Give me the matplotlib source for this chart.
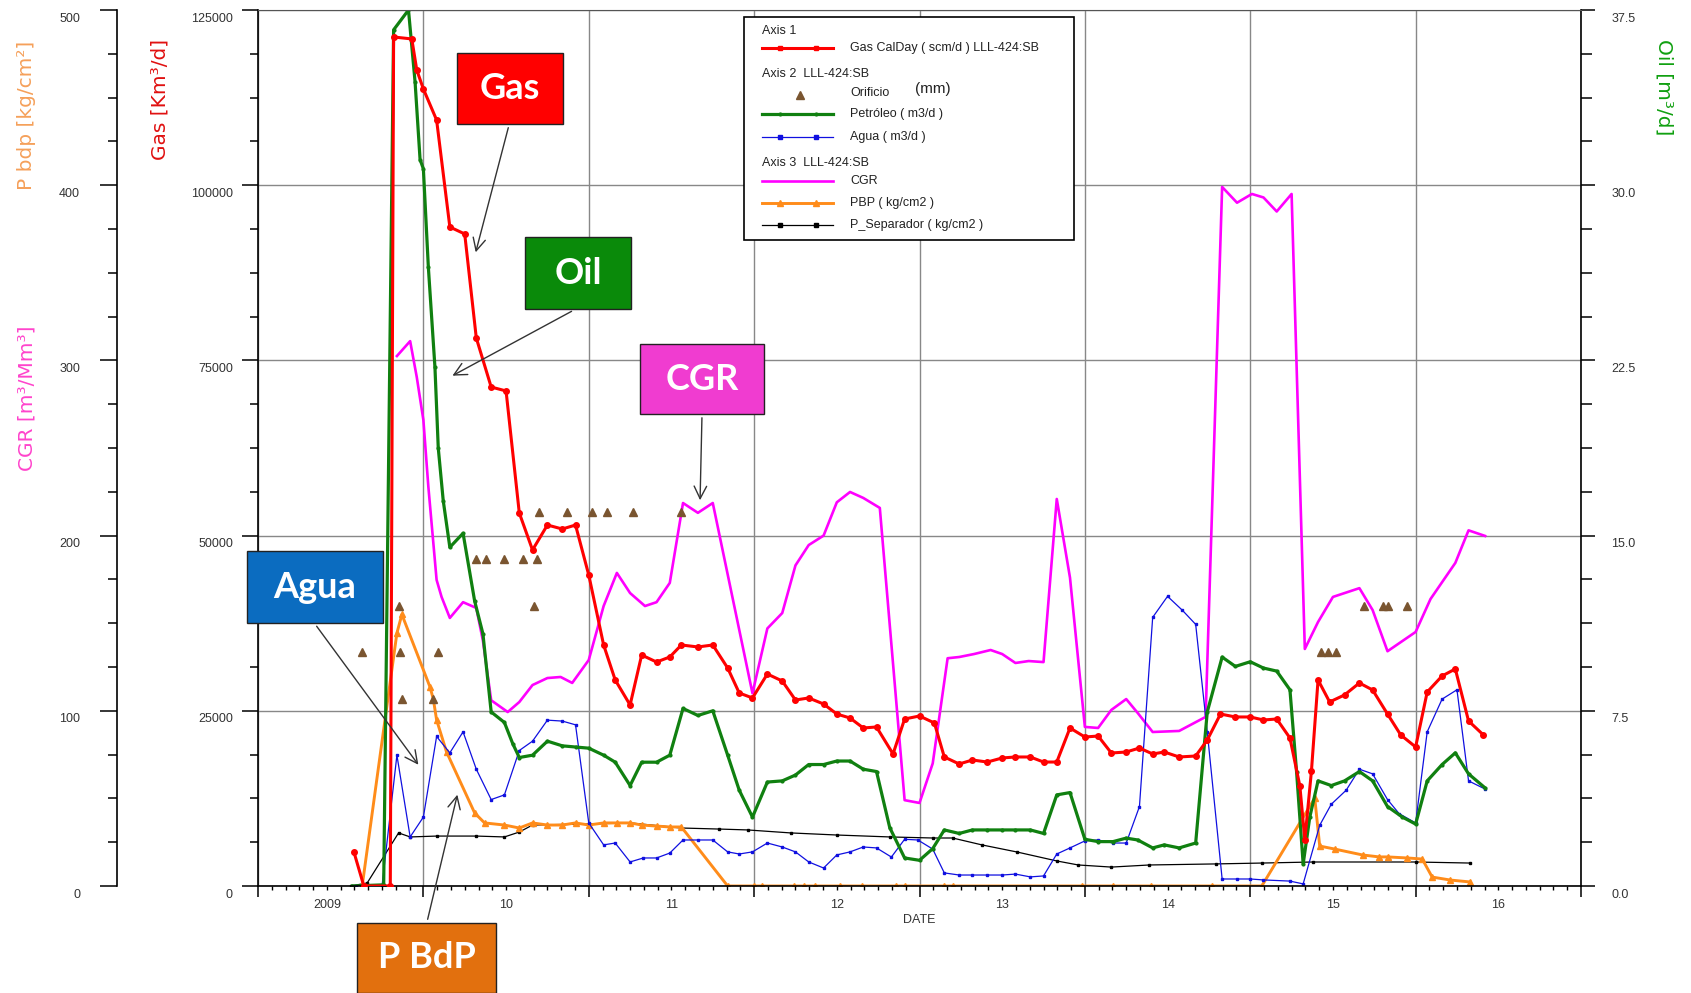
import matplotlib
matplotlib.use('Agg')
import matplotlib.pyplot as plt
from matplotlib.lines import Line2D
from matplotlib.patches import Rectangle, FancyArrowPatch
from matplotlib.ticker import FixedLocator, FuncFormatter, NullFormatter
import matplotlib.transforms as mtransforms

plt.rcParams['font.family'] = ['Liberation Sans', 'DejaVu Sans']

# ---------------- data (decimal years) ----------------
gas_x = [2009.58, 2009.64, 2009.80, 2009.82, 2009.93, 2009.96, 2010.00, 2010.08, 2010.16, 2010.25, 2010.32,
         2010.41, 2010.50, 2010.58, 2010.66, 2010.75, 2010.84, 2010.92, 2011.00, 2011.09, 2011.16,
         2011.25, 2011.32, 2011.41, 2011.49, 2011.56, 2011.66, 2011.75, 2011.84, 2011.91, 2011.99,
         2012.08, 2012.17, 2012.25, 2012.33, 2012.42, 2012.50, 2012.58, 2012.66, 2012.74, 2012.84,
         2012.91, 2013.00, 2013.09, 2013.15, 2013.24, 2013.32, 2013.41, 2013.50, 2013.58, 2013.67,
         2013.75, 2013.83, 2013.91, 2014.00, 2014.08, 2014.16, 2014.25, 2014.33, 2014.41, 2014.48,
         2014.57, 2014.67, 2014.74, 2014.82, 2014.91, 2015.00, 2015.08, 2015.16, 2015.24, 2015.30,
         2015.33, 2015.37, 2015.41, 2015.48, 2015.57, 2015.66, 2015.74, 2015.83, 2015.91, 2016.00,
         2016.07, 2016.16, 2016.24, 2016.32, 2016.41]
gas_scmd = [4850, 0, 0, 121150, 120870, 116440, 113730, 109300, 94040, 93040, 78200,
            71200, 70640, 53230, 47950, 51510, 50940, 51510, 44380, 34390, 29400,
            25830, 32960, 31960, 32680, 34390, 34110, 34390, 31110, 27540, 26830,
            30250, 29250, 26540, 26830, 25970, 24540, 23970, 22550, 22690, 18840,
            23830, 24260, 23260, 18410, 17410, 17980, 17690, 18270, 18410, 18410,
            17690, 17690, 22550, 21260, 21400, 18980, 19120, 19690, 18840, 19120,
            18410, 18550, 20830, 24540, 24120, 24120, 23690, 23830, 21120, 14270,
            6560, 16410, 29400, 26260, 27260, 28970, 27970, 24540, 21550, 19840,
            27680, 29970, 30970, 23550, 21550]

oil_x = [2009.57, 2009.76, 2009.82, 2009.91, 2009.95, 2009.98, 2010.00, 2010.03, 2010.07, 2010.09,
         2010.12, 2010.16, 2010.24, 2010.31, 2010.36, 2010.41, 2010.49, 2010.54, 2010.58, 2010.66,
         2010.75, 2010.84, 2010.92, 2011.00, 2011.09, 2011.16, 2011.25, 2011.32, 2011.41, 2011.49,
         2011.57, 2011.66, 2011.75, 2011.84, 2011.91, 2011.99, 2012.08, 2012.17, 2012.25, 2012.33,
         2012.42, 2012.50, 2012.58, 2012.66, 2012.74, 2012.82, 2012.91, 2013.00, 2013.08, 2013.15,
         2013.24, 2013.32, 2013.41, 2013.50, 2013.58, 2013.67, 2013.75, 2013.83, 2013.91, 2014.00,
         2014.08, 2014.17, 2014.25, 2014.32, 2014.41, 2014.48, 2014.57, 2014.67, 2014.74, 2014.83,
         2014.91, 2015.00, 2015.08, 2015.16, 2015.24, 2015.28, 2015.32, 2015.36, 2015.41, 2015.49,
         2015.57, 2015.66, 2015.74, 2015.83, 2015.92, 2016.00, 2016.07, 2016.16, 2016.24, 2016.32,
         2016.42]
oil_m3d = [0.0, 0.05, 36.65, 37.5, 34.4, 31.1, 30.7, 26.5, 22.2, 18.75,
           16.5, 14.5, 15.1, 12.2, 10.8, 7.45, 7.0, 6.1, 5.5, 5.6,
           6.2, 6.0, 5.95, 5.9, 5.6, 5.3, 4.3, 5.3, 5.3, 5.6,
           7.6, 7.3, 7.5, 5.6, 4.1, 2.95, 4.45, 4.5, 4.75, 5.2,
           5.2, 5.35, 5.35, 5.0, 4.9, 2.5, 1.2, 1.1, 1.6, 2.4,
           2.25, 2.4, 2.4, 2.4, 2.4, 2.4, 2.25, 3.9, 4.0, 2.0,
           1.9, 1.9, 2.05, 1.97, 1.63, 1.76, 1.63, 1.84, 7.45, 9.8,
           9.4, 9.6, 9.33, 9.2, 8.4, 4.9, 0.94, 2.95, 4.5, 4.3,
           4.5, 4.9, 4.5, 3.4, 2.95, 2.65, 4.5, 5.2, 5.7, 4.8,
           4.2]

agua_x = [2009.59, 2009.75, 2009.84, 2009.92, 2010.00, 2010.08, 2010.16, 2010.24, 2010.32, 2010.41,
          2010.49, 2010.58, 2010.66, 2010.75, 2010.84, 2010.92, 2011.00, 2011.09, 2011.16, 2011.25,
          2011.33, 2011.41, 2011.49, 2011.57, 2011.66, 2011.75, 2011.84, 2011.91, 2011.99, 2012.08,
          2012.17, 2012.25, 2012.33, 2012.42, 2012.50, 2012.58, 2012.66, 2012.74, 2012.83, 2012.91,
          2012.99, 2013.08, 2013.15, 2013.24, 2013.32, 2013.41, 2013.50, 2013.58, 2013.67, 2013.75,
          2013.83, 2013.91, 2014.00, 2014.08, 2014.17, 2014.25, 2014.33, 2014.41, 2014.50, 2014.59,
          2014.67, 2014.74, 2014.83, 2014.92, 2015.00, 2015.08, 2015.24, 2015.32, 2015.42, 2015.49,
          2015.58, 2015.66, 2015.74, 2015.83, 2015.90, 2016.00, 2016.07, 2016.16, 2016.25, 2016.32,
          2016.42]
agua_m3d = [0.0, 0.0, 5.6, 2.1, 2.95, 6.4, 5.7, 6.6, 5.0, 3.7,
            3.9, 5.8, 6.2, 7.1, 7.06, 6.9, 2.7, 1.76, 1.84, 1.03,
            1.2, 1.2, 1.41, 1.97, 1.97, 1.97, 1.46, 1.37, 1.46, 1.84,
            1.67, 1.46, 1.03, 0.77, 1.33, 1.46, 1.67, 1.63, 1.24, 2.0,
            1.97, 1.58, 0.56, 0.47, 0.47, 0.47, 0.47, 0.51, 0.39, 0.43,
            1.37, 1.63, 1.93, 1.97, 1.84, 1.84, 3.4, 11.5, 12.4, 11.8,
            11.2, 6.6, 0.3, 0.3, 0.3, 0.26, 0.21, 0.09, 2.6, 3.5,
            4.1, 5.0, 4.8, 3.7, 3.1, 2.7, 6.6, 8.0, 8.4, 4.5,
            4.15]

orif_x = [2009.63, 2009.85, 2009.86, 2009.87, 2010.06, 2010.09, 2010.32, 2010.38, 2010.49, 2010.60,
          2010.69, 2010.67, 2010.70, 2010.87, 2011.02, 2011.11, 2011.27, 2011.56, 2015.43, 2015.47,
          2015.52, 2015.69, 2015.80, 2015.83, 2015.95]
orif_mm = [10.0, 12.0, 10.0, 8.0, 8.0, 10.0, 14.0, 14.0, 14.0, 14.0,
           14.0, 12.0, 16.0, 16.0, 16.0, 16.0, 16.0, 16.0, 10.0, 10.0,
           10.0, 12.0, 12.0, 12.0, 12.0]

cgr_x = [2009.84, 2009.92, 2009.96, 2010.00, 2010.03, 2010.08, 2010.11, 2010.16, 2010.24, 2010.32,
         2010.36, 2010.41, 2010.51, 2010.58, 2010.66, 2010.75, 2010.83, 2010.90, 2011.00, 2011.09,
         2011.17, 2011.25, 2011.34, 2011.41, 2011.49, 2011.57, 2011.66, 2011.75, 2011.99, 2012.08,
         2012.17, 2012.25, 2012.33, 2012.42, 2012.50, 2012.58, 2012.66, 2012.76, 2012.91, 2013.00,
         2013.08, 2013.17, 2013.24, 2013.33, 2013.43, 2013.50, 2013.58, 2013.66, 2013.75, 2013.83,
         2013.91, 2014.00, 2014.08, 2014.16, 2014.25, 2014.32, 2014.41, 2014.57, 2014.73, 2014.83,
         2014.92, 2015.01, 2015.08, 2015.16, 2015.25, 2015.33, 2015.41, 2015.50, 2015.66, 2015.74,
         2015.83, 2016.00, 2016.09, 2016.24, 2016.32, 2016.42]
cgr_val = [302.5, 311, 290.5, 266, 228, 174.7, 165, 153, 162, 158.7,
           140, 106, 99.3, 105, 114.7, 118.7, 119.3, 115.9, 129, 159.8,
           178.7, 167.2, 159.8, 162, 173, 218.6, 213, 218.6, 110, 147,
           155.8, 183, 194.6, 200, 219, 224.9, 221.5, 215.8, 49, 47.4,
           70, 130, 130.7, 132.4, 134.7, 132.4, 127.3, 128.4, 127.8, 220.9,
           176, 90.8, 90.2, 100.5, 106.7, 98.7, 87.9, 88.5, 96.5, 399,
           390, 395, 393, 385, 395, 135.3, 150.7, 165, 170, 157.5,
           134, 145, 163.8, 184.4, 203, 199.8]

pbp_x = [2009.63, 2009.84, 2009.87, 2010.04, 2010.06, 2010.08, 2010.14, 2010.31, 2010.37, 2010.49,
         2010.58, 2010.66, 2010.75, 2010.84, 2010.92, 2011.00, 2011.09, 2011.17, 2011.25, 2011.32,
         2011.41, 2011.49, 2011.56, 2011.84, 2012.00, 2012.05, 2012.24, 2012.30, 2012.37, 2012.52,
         2012.65, 2012.86, 2012.91, 2013.15, 2013.20, 2013.98, 2014.17, 2014.40, 2014.77, 2015.07,
         2015.39, 2015.42, 2015.51, 2015.68, 2015.78, 2015.83, 2015.95, 2016.04, 2016.10, 2016.21,
         2016.33]
pbp_val = [0, 144.4, 155, 113.6, 106.7, 94.8, 76.5, 41.7, 36, 34.8,
           33.1, 36, 34.8, 34.8, 36, 34.8, 36, 36, 36, 34.8,
           34.2, 33.7, 33.7, 0, 0, 0, 0, 0, 0, 0,
           0, 0, 0, 0, 0, 0, 0, 0, 0, 0,
           50.2, 22.8, 21.1, 17.7, 16.6, 16.6, 16.0, 15.4, 5.1, 3.4,
           2.3]

psep_x = [2009.56, 2009.66, 2009.85, 2009.92, 2010.08, 2010.32, 2010.49, 2010.58, 2010.66, 2011.00,
          2011.25, 2011.56, 2011.79, 2011.96, 2012.22, 2012.50, 2012.82, 2013.08, 2013.20, 2013.38,
          2013.59, 2013.83, 2013.96, 2014.16, 2014.39, 2014.79, 2015.07, 2015.38, 2016.00, 2016.33]
psep_val = [0, 1.7, 30.3, 28, 28.5, 28.5, 28, 30.8, 34.8, 35.4,
            36, 33.1, 32.5, 32, 30.3, 29.1, 28, 27.4, 27.4, 23.4,
            19.4, 14.3, 12, 10.8, 12, 12.6, 13.1, 13.7, 13.7, 13.1]

gas_ticks = [0, 25000, 50000, 75000, 100000, 125000]
oil_ticks = [0.0, 7.5, 15.0, 22.5, 30.0, 37.5]
left_ticks = [0, 100, 200, 300, 400, 500]
year_bounds = list(range(2009, 2018))
year_label_pos = [2009 + 5 / 12] + [y + 0.5 for y in range(2010, 2017)]
year_labels = ['2009', '10', '11', '12', '13', '14', '15', '16']

# ---------------- figure ----------------
W, H = 1691, 993
fig = plt.figure(figsize=(W / 100, H / 100), dpi=100)


def fx(px):
    return px / W


def fy(py):
    return 1 - py / H


L, R, T, B = 258, 1581, 10, 886
ax = fig.add_axes([fx(L), fy(B), fx(R) - fx(L), fy(T) - fy(B)])
ax3 = ax.twinx()   # CGR / PBP / P_Separador
ax2 = ax.twinx()   # Oil / Agua / Orificio

ax.set_zorder(3)
ax.patch.set_visible(False)
ax2.set_zorder(2)
ax2.patch.set_visible(False)
ax3.set_zorder(1)
ax3.patch.set_visible(True)
ax3.patch.set_facecolor('white')

GRAY = '#888888'
TXT = '#333333'

# --- x axis ---
ax.set_xlim(2009, 2017)
ax.xaxis.set_major_locator(FixedLocator(year_bounds))
ax.xaxis.set_major_formatter(NullFormatter())
months = [y + m / 12 for y in range(2009, 2017) for m in range(1, 12)]
ax.xaxis.set_minor_locator(FixedLocator(months))


def xfmt(x, pos):
    for xp, lab in zip(year_label_pos, year_labels):
        if abs(x - xp) < 1e-6:
            return lab
    return ''


ax.xaxis.set_minor_formatter(FuncFormatter(xfmt))
ax.tick_params(axis='x', which='major', direction='out', length=7.9, width=1.1, color='black')
ax.tick_params(axis='x', which='minor', direction='out', length=2.9, width=1.0, color='black',
               pad=6.5, labelsize=9, labelcolor=TXT)
ax.set_xlabel('DATE', fontsize=9, color=TXT, labelpad=2)

# --- gas axis (main left) ---
ax.set_ylim(0, 125000)
ax.yaxis.set_major_locator(FixedLocator(gas_ticks))
ax.yaxis.set_minor_locator(FixedLocator([v * 6250 for v in range(21)]))
ax.yaxis.set_major_formatter(FuncFormatter(lambda v, p: '%d' % v))
ax.tick_params(axis='y', which='major', direction='out', length=11.5, width=1.1,
               pad=6.5, labelsize=9, labelcolor=TXT)
ax.tick_params(axis='y', which='minor', direction='out', length=5.8, width=1.1)
ax.spines['right'].set_visible(False)
ax.spines['top'].set_color('#555555')
for s in ('left', 'bottom'):
    ax.spines[s].set_linewidth(1.2)

# --- oil axis (right) ---
ax2.set_ylim(0, 37.5)
ax2.yaxis.set_major_locator(FixedLocator(oil_ticks))
ax2.yaxis.set_minor_locator(FixedLocator([v * 1.875 for v in range(21)]))
ax2.yaxis.set_major_formatter(FuncFormatter(lambda v, p: '%.1f' % v))
ax2.tick_params(axis='y', which='major', direction='out', length=10, width=1.1,
                pad=12, labelsize=9, labelcolor=TXT)
ax2.tick_params(axis='y', which='minor', direction='out', length=8, width=1.1)
for s in ('left', 'top', 'bottom'):
    ax2.spines[s].set_visible(False)
ax2.spines['right'].set_linewidth(1.2)

# --- CGR / pressure axis (outer left) ---
ax3.set_ylim(0, 500)
ax3.yaxis.tick_left()
ax3.yaxis.set_label_position('left')
ax3.spines['left'].set_position(('axes', (117 - L) / (R - L)))
ax3.spines['left'].set_visible(True)
ax3.spines['left'].set_linewidth(1.2)
for s in ('right', 'top', 'bottom'):
    ax3.spines[s].set_visible(False)
ax3.yaxis.set_major_locator(FixedLocator(left_ticks))
ax3.yaxis.set_minor_locator(FixedLocator([v * 25 for v in range(21)]))
ax3.yaxis.set_major_formatter(FuncFormatter(lambda v, p: '%d' % v))
ax3.tick_params(axis='y', which='major', direction='out', length=12.2, width=1.1,
                pad=14.4, labelsize=9, labelcolor=TXT)
ax3.tick_params(axis='y', which='minor', direction='out', length=6.5, width=1.1)
# grid on the bottom-most axes
ax3.xaxis.set_visible(True)
ax3.tick_params(axis='x', which='both', bottom=False, top=False, labelbottom=False, labeltop=False)
ax3.grid(True, which='major', axis='both', color=GRAY, linewidth=1.0)
ax3.set_axisbelow(True)

# ---------------- series ----------------
ax3.plot(cgr_x, cgr_val, color='#FF00FF', lw=1.9, zorder=2)
ax3.plot(psep_x, psep_val, color='black', lw=0.9, marker='s', ms=2, zorder=3)
ax3.plot(pbp_x, pbp_val, color='#FF8C1A', lw=2.1, marker='^', ms=5, zorder=4)

ax2.plot(agua_x, agua_m3d, color='#1010E0', lw=0.9, marker='s', ms=2, zorder=2)
ax2.plot(oil_x, oil_m3d, color='#108010', lw=2.3, marker='o', ms=2, zorder=3)
ax2.plot(orif_x, orif_mm, ls='none', marker='^', ms=5.5, color='#7A5530', zorder=4)

ax.plot(gas_x, gas_scmd, color='#FF0000', lw=2.2, marker='o', ms=4, zorder=3)

# shift y tick labels slightly below their ticks (as in the reference)
off = mtransforms.ScaledTranslation(0, -0.07, fig.dpi_scale_trans)
for a in (ax, ax2, ax3):
    for lbl in a.yaxis.get_majorticklabels():
        lbl.set_transform(lbl.get_transform() + off)

# ---------------- axis titles ----------------
fig.text(fx(27), fy(115), 'P bdp [kg/cm²]', rotation=90, color='#F5A05A', fontsize=14.5,
         family='DejaVu Sans', ha='center', va='center')
fig.text(fx(27), fy(398), 'CGR [m³/Mm³]', rotation=90, color='#FF44CC', fontsize=14.5,
         family='DejaVu Sans', ha='center', va='center')
fig.text(fx(160), fy(99), 'Gas [Km³/d]', rotation=90, color='#E01010', fontsize=14.5,
         family='DejaVu Sans', ha='center', va='center')
fig.text(fx(1664), fy(87), 'Oil [m³/d]', rotation=270, color='#10A010', fontsize=14.5,
         family='DejaVu Sans', ha='center', va='center')

# ---------------- legend box ----------------
Z = 20
fig.add_artist(Rectangle((fx(744), fy(240)), fx(1074) - fx(744), fy(17) - fy(240),
                         transform=fig.transFigure, facecolor='white', edgecolor='black',
                         lw=1.2, zorder=Z))
LFS = 9


def leg_text(x, y, s, size=LFS):
    fig.text(fx(x), fy(y), s, fontsize=size, color='#222222', ha='left', va='center', zorder=Z + 1)


def leg_line(y, color, lw, marker=None, ms=0):
    fig.add_artist(Line2D([fx(762), fx(833)], [fy(y), fy(y)], transform=fig.transFigure,
                          color=color, lw=lw, zorder=Z + 1))
    if marker:
        fig.add_artist(Line2D([fx(780), fx(816)], [fy(y), fy(y)], transform=fig.transFigure,
                              ls='none', marker=marker, ms=ms, color=color, zorder=Z + 1))


leg_text(762, 31, 'Axis 1')
leg_line(48, '#FF0000', 2.2, 's', 3.5)
leg_text(850, 48, 'Gas CalDay ( scm/d ) LLL-424:SB')
leg_text(762, 74, 'Axis 2  LLL-424:SB')
fig.add_artist(Line2D([fx(800)], [fy(95)], transform=fig.transFigure, ls='none', marker='^',
                      ms=5.5, color='#7A5530', zorder=Z + 1))
leg_text(850, 93, 'Orificio')
leg_text(915, 89, '(mm)', size=11)
leg_line(114, '#108010', 2.3, 'o', 2)
leg_text(850, 114, 'Petróleo ( m3/d )')
leg_line(137, '#1010E0', 0.9, 's', 2.5)
leg_text(850, 137, 'Agua ( m3/d )')
leg_text(762, 163, 'Axis 3  LLL-424:SB')
leg_line(181, '#FF00FF', 1.9)
leg_text(850, 181, 'CGR')
leg_line(203, '#FF8C1A', 2.1, '^', 5)
leg_text(850, 203, 'PBP ( kg/cm2 )')
leg_line(225, 'black', 0.9, 's', 2.5)
leg_text(850, 225, 'P_Separador ( kg/cm2 )')

# ---------------- callout boxes ----------------
callouts = [
    ('Gas', '#FF0000', (457, 53, 563, 124), (509, 125), (475, 255)),
    ('Oil', '#0A8A0A', (525, 237, 631, 309), (574, 310), (450, 377)),
    ('CGR', '#F03CD0', (640, 344, 764, 414), (702, 415), (700, 503)),
    ('Agua', '#0B6CC0', (247, 551, 383, 623), (315, 624), (420, 767)),
    ('P BdP', '#E2700E', (357, 923, 496, 993), (427, 922), (458, 792)),
]
for label, col, (x0, y0, x1, y1), a0, a1 in callouts:
    fig.add_artist(Rectangle((fx(x0), fy(y1)), fx(x1) - fx(x0), fy(y0) - fy(y1),
                             transform=fig.transFigure, facecolor=col, edgecolor='#222222',
                             lw=1.0, zorder=Z))
    fig.text(fx((x0 + x1) / 2), fy((y0 + y1) / 2), label, color='white', fontsize=26,
             family=['Lato', 'DejaVu Sans'], fontweight='bold', ha='center', va='center',
             zorder=Z + 1)
    fig.add_artist(FancyArrowPatch((fx(a0[0]), fy(a0[1])), (fx(a1[0]), fy(a1[1])),
                                   transform=fig.transFigure,
                                   arrowstyle='->,head_length=0.9,head_width=0.45',
                                   mutation_scale=10, color='#333333', lw=1.0, zorder=Z))

fig.savefig('out.png', dpi=100)
